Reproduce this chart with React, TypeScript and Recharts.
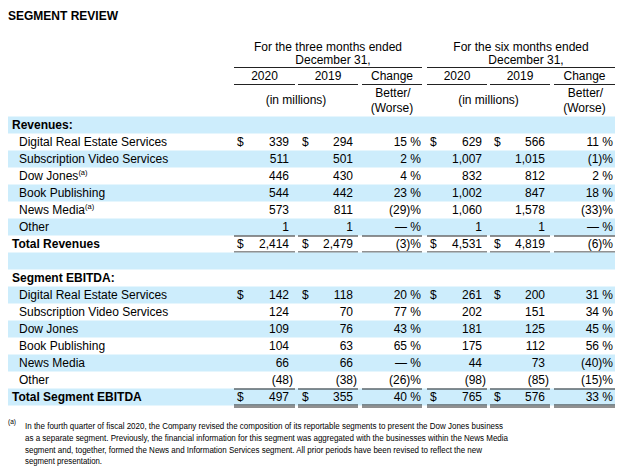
import { BarChart, Bar, XAxis, YAxis, Customized } from "recharts";

const FONT = "'Liberation Sans', Arial, Helvetica, sans-serif";
const SHADE = "#cdedfc";

const TITLE = "SEGMENT REVIEW";
const PERIOD_HEADERS = [
  ["For the three months ended", "December 31,"],
  ["For the six months ended", "December 31,"],
];
const YEAR_HEADERS = ["2020", "2019", "Change"];
const UNIT_LABEL = "(in millions)";
const CHANGE_LABEL = ["Better/", "(Worse)"];

const REVENUE_SEGMENTS = [
  "Digital Real Estate Services",
  "Subscription Video Services",
  "Dow Jones",
  "Book Publishing",
  "News Media",
  "Other",
];
const REVENUE_NOTES = ["", "", "(a)", "", "(a)", ""];
const REV_3M_2020 = [339, 511, 446, 544, 573, 1];
const REV_3M_2019 = [294, 501, 430, 442, 811, 1];
const REV_3M_CHANGE = ["15 %", "2 %", "4 %", "23 %", "(29)%", "— %"];
const REV_6M_2020 = [629, 1007, 832, 1002, 1060, 1];
const REV_6M_2019 = [566, 1015, 812, 847, 1578, 1];
const REV_6M_CHANGE = ["11 %", "(1)%", "2 %", "18 %", "(33)%", "— %"];
const REV_TOTAL = [2414, 2479, "(3)%", 4531, 4819, "(6)%"];

const EBITDA_SEGMENTS = [
  "Digital Real Estate Services",
  "Subscription Video Services",
  "Dow Jones",
  "Book Publishing",
  "News Media",
  "Other",
];
const EBITDA_3M_2020 = [142, 124, 109, 104, 66, -48];
const EBITDA_3M_2019 = [118, 70, 76, 63, 66, -38];
const EBITDA_3M_CHANGE = ["20 %", "77 %", "43 %", "65 %", "— %", "(26)%"];
const EBITDA_6M_2020 = [261, 202, 181, 175, 44, -98];
const EBITDA_6M_2019 = [200, 151, 125, 112, 73, -85];
const EBITDA_6M_CHANGE = ["31 %", "34 %", "45 %", "56 %", "(40)%", "(15)%"];
const EBITDA_TOTAL = [497, 355, "40 %", 765, 576, "33 %"];

const FOOTNOTE_MARK = "(a)";
const FOOTNOTE_LINES = [
  "In the fourth quarter of fiscal 2020, the Company revised the composition of its reportable segments to present the Dow Jones business",
  "as a separate segment. Previously, the financial information for this segment was aggregated with the businesses within the News Media",
  "segment and, together, formed the News and Information Services segment. All prior periods have been revised to reflect the new",
  "segment presentation.",
];
const FOOTNOTE_WIDTHS = [478, 483, 457, 77];

// column layout (x of "$" sign, right edge of the figures, underline span)
const COLS = [
  { dollar: 237, right: 289, line: [234, 295] },
  { dollar: 302, right: 353, line: [298, 358] },
  { dollar: null, right: 421, line: [362, 422] },
  { dollar: 430, right: 482, line: [427, 487] },
  { dollar: 494, right: 545, line: [490, 550] },
  { dollar: null, right: 613, line: [554, 615] },
];
const GROUPS = [
  [234, 422],
  [427, 615],
];

const rawRows = [
  { key: "rev-h", label: "Revenues:", kind: "section" },
  ...REVENUE_SEGMENTS.map((s, i) => ({
    key: "rev-" + i,
    label: s,
    note: REVENUE_NOTES[i],
    kind: "item",
    dollar: i === 0,
    values: [REV_3M_2020[i], REV_3M_2019[i], REV_3M_CHANGE[i], REV_6M_2020[i], REV_6M_2019[i], REV_6M_CHANGE[i]],
  })),
  { key: "rev-t", label: "Total Revenues", kind: "total", dollar: true, values: REV_TOTAL },
  { key: "gap", label: "", kind: "blank" },
  { key: "ebitda-h", label: "Segment EBITDA:", kind: "section" },
  ...EBITDA_SEGMENTS.map((s, i) => ({
    key: "ebitda-" + i,
    label: s,
    note: "",
    kind: "item",
    dollar: i === 0,
    values: [EBITDA_3M_2020[i], EBITDA_3M_2019[i], EBITDA_3M_CHANGE[i], EBITDA_6M_2020[i], EBITDA_6M_2019[i], EBITDA_6M_CHANGE[i]],
  })),
  { key: "ebitda-t", label: "Total Segment EBITDA", kind: "total", dollar: true, values: EBITDA_TOTAL },
];

const rows = rawRows.map((r: any, i) => ({ ...r, band: 1, shaded: i % 2 === 0 }));

const fmt = (n: number) => Math.abs(n).toLocaleString("en-US");

function RowShape(props: any) {
  const { x, y, width, height, payload } = props;
  const base = y + height / 2 + 4.2;
  const bold = payload.kind === "section" || payload.kind === "total";
  const labelX = payload.kind === "item" ? x + 11 : x + 4;
  return (
    <g fontFamily={FONT} fontSize={12} fill="#000">
      {payload.shaded && <rect x={x} y={y} width={width} height={height} fill={SHADE} />}
      {payload.label && (
        <text x={labelX} y={base} fontWeight={bold ? "bold" : "normal"}>
          {payload.label}
          {payload.note ? (
            <tspan fontSize={7.5} dy={-5}>
              {payload.note}
            </tspan>
          ) : null}
        </text>
      )}
      {payload.values &&
        payload.values.map((v: any, c: number) => {
          const col = COLS[c];
          return (
            <g key={c}>
              {payload.dollar && col.dollar != null && (
                <text x={col.dollar} y={base}>
                  $
                </text>
              )}
              {typeof v === "number" ? (
                <>
                  <text x={col.right} y={base} textAnchor="end">
                    {(v < 0 ? "(" : "") + fmt(v)}
                  </text>
                  {v < 0 && (
                    <text x={col.right} y={base}>
                      )
                    </text>
                  )}
                </>
              ) : (
                <text x={col.right} y={base} textAnchor="end">
                  {v}
                </text>
              )}
            </g>
          );
        })}
      {payload.kind === "total" &&
        COLS.map((col, c) => (
          <g key={"l" + c} stroke="#222" strokeWidth={1}>
            <line x1={col.line[0]} x2={col.line[1]} y1={y + 0.5} y2={y + 0.5} />
            <line x1={col.line[0]} x2={col.line[1]} y1={y + height - 0.5} y2={y + height - 0.5} />
            <line x1={col.line[0]} x2={col.line[1]} y1={y + height + 1.5} y2={y + height + 1.5} />
          </g>
        ))}
    </g>
  );
}

function HeaderAndNotes() {
  return (
    <g fontFamily={FONT} fill="#000">
      <text x={8} y={20} fontSize={12} fontWeight="bold">
        {TITLE}
      </text>
      {PERIOD_HEADERS.map((lines, g) => {
        const [x1, x2] = GROUPS[g];
        const cx = (x1 + x2) / 2;
        return (
          <g key={g} fontSize={12}>
            <text x={cx} y={51} textAnchor="middle">
              {lines[0]}
            </text>
            <text x={cx + 5} y={64} textAnchor="middle">
              {lines[1]}
            </text>
            <line x1={x1} x2={x2} y1={67.5} y2={67.5} stroke="#222" strokeWidth={1.2} />
            {YEAR_HEADERS.map((h, k) => {
              const col = COLS[g * 3 + k];
              return (
                <g key={k}>
                  <text x={(col.line[0] + col.line[1]) / 2} y={80} textAnchor="middle">
                    {h}
                  </text>
                  <line x1={col.line[0]} x2={col.line[1]} y1={84.5} y2={84.5} stroke="#222" strokeWidth={1.2} />
                </g>
              );
            })}
            <text x={(COLS[g * 3].line[0] + COLS[g * 3 + 1].line[1]) / 2} y={104} textAnchor="middle">
              {UNIT_LABEL}
            </text>
            <text x={(COLS[g * 3 + 2].line[0] + COLS[g * 3 + 2].line[1]) / 2 + 1} y={97} textAnchor="middle">
              {CHANGE_LABEL[0]}
            </text>
            <text x={(COLS[g * 3 + 2].line[0] + COLS[g * 3 + 2].line[1]) / 2} y={112} textAnchor="middle">
              {CHANGE_LABEL[1]}
            </text>
          </g>
        );
      })}
      <text x={8} y={424} fontSize={6.5}>
        {FOOTNOTE_MARK}
      </text>
      {FOOTNOTE_LINES.map((line, i) => (
        <text
          key={i}
          x={25}
          y={429 + i * 11.8}
          fontSize={9.6}
          textLength={FOOTNOTE_WIDTHS[i]}
          lengthAdjust="spacingAndGlyphs"
        >
          {line}
        </text>
      ))}
    </g>
  );
}

export default function App() {
  return (
    <div style={{ position: "fixed", left: 0, top: 0, width: 630, height: 476, background: "#fff" }}>
      <BarChart
        width={630}
        height={476}
        data={rows}
        layout="vertical"
        barCategoryGap={0}
        margin={{ top: 116.5, right: 15, bottom: 70.5, left: 8 }}
      >
        <XAxis type="number" domain={[0, 1]} hide />
        <YAxis type="category" dataKey="key" hide />
        <Bar dataKey="band" shape={<RowShape />} isAnimationActive={false} />
        <Customized component={<HeaderAndNotes />} />
      </BarChart>
    </div>
  );
}
